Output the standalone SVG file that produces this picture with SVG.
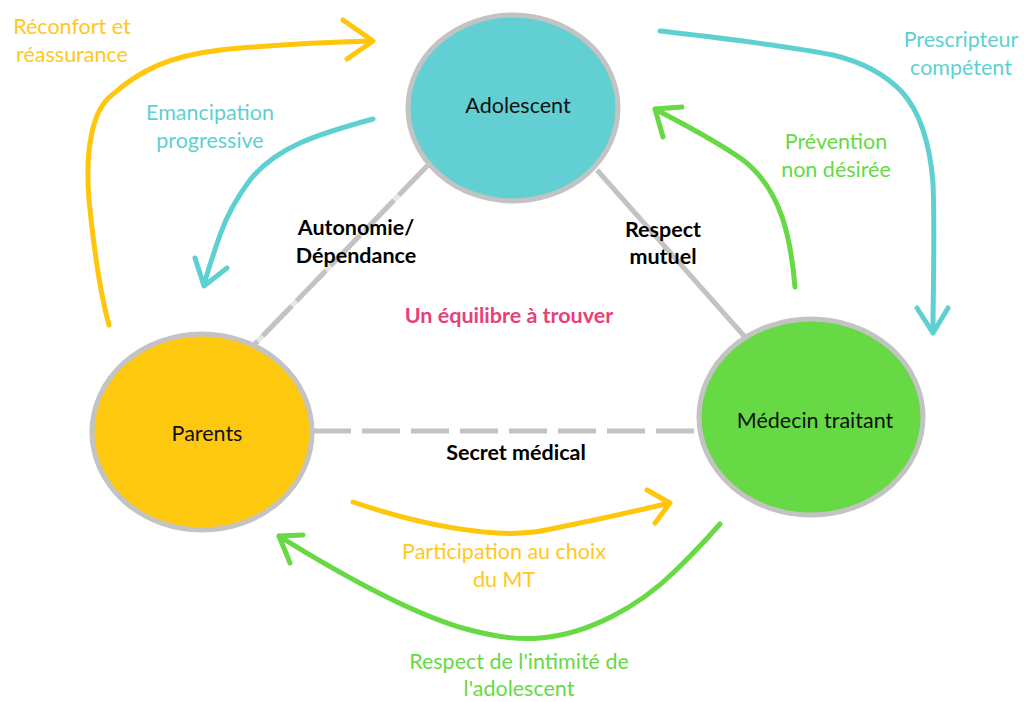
<svg xmlns="http://www.w3.org/2000/svg" width="1024" height="702" viewBox="0 0 1024 702">
<style>
.node{stroke:#c3c3c3;stroke-width:5}
.nl{font-family:Lato,"Liberation Sans",sans-serif;font-size:21.5px;fill:#111;text-anchor:middle}
.lb{font-family:Lato,"Liberation Sans",sans-serif;font-size:21.5px;text-anchor:middle}
.bd{font-family:Lato,"Liberation Sans",sans-serif;font-size:21.5px;font-weight:bold;text-anchor:middle;fill:#000}
.arr{fill:none;stroke-width:5;stroke-linecap:round;stroke-linejoin:round}
.y{stroke:#ffc60b}.t{stroke:#5fd0d2}.g{stroke:#66d944}
.ty{fill:#ffc820}.tt{fill:#5fd0d2}.tg{fill:#66d944}
.link{stroke:#c3c3c3;stroke-width:5;fill:none}
</style>
<rect width="1024" height="702" fill="#fff"/>
<g id="connectors">
<line x1="428" y1="165" x2="252" y2="347" stroke="#e6e6e6" stroke-width="5"/>
<line class="link" x1="428" y1="165" x2="252" y2="347" stroke-dasharray="42 7"/>
<line class="link" x1="597" y1="170" x2="745" y2="337"/>
<line class="link" x1="313" y1="431" x2="700" y2="431" stroke-dasharray="38 11"/>
<path class="arr y" d="M109,325 C102,300 95,260 89,200 C85,150 92,110 112,95 C140,70 170,56 220,50 C280,44 330,42 372,41 M343,20 L373,41 L347,59"/>
<path class="arr t" d="M373,119 C340,128 320,134 300,143 C280,152 262,165 250,180 C238,196 227,215 220,235 C213,255 208,270 204,285 M195,258 L204,286 L227,268"/>
<path class="arr t" d="M660,31 C720,38 790,46 833,55 C862,62 885,74 902,92 C920,112 930,145 933,183 C935,230 933,290 933,333 M917,308 L933,333 L948,308"/>
<path class="arr g" d="M795,287 C791,240 782,190 743,160 C715,140 685,125 655,109 M682,107 L655,109 L663,137"/>
<path class="arr y" d="M353,502 C400,518 450,530 497,533 C530,535 545,530 570,525 C610,517 640,510 670,503 M647,490 L670,503 L655,523"/>
<path class="arr g" d="M720,524 C705,541 690,557 673,573 C640,605 590,634 540,638 C520,640 500,638 470,630 C420,617 350,580 279,536 M303,535 L279,536 L290,563"/>
</g>
<g id="adolescent">
<ellipse class="node" cx="513" cy="108" rx="105" ry="93" fill="#62cfd2"/>
<text class="nl" x="518" y="113">Adolescent</text>
</g>
<g id="parents">
<ellipse class="node" cx="202" cy="432" rx="110" ry="98" fill="#fec80e"/>
<text class="nl" x="207" y="441">Parents</text>
</g>
<g id="medecin">
<ellipse class="node" cx="811" cy="417" rx="112" ry="98" fill="#66d944"/>
<text class="nl" x="815" y="428">Médecin traitant</text>
</g>
<g id="labels">
<text class="lb ty" x="72" y="34">Réconfort et</text>
<text class="lb ty" x="72" y="62">réassurance</text>
<text class="lb tt" x="210" y="120">Emancipation</text>
<text class="lb tt" x="210" y="148">progressive</text>
<text class="lb tt" x="961" y="47">Prescripteur</text>
<text class="lb tt" x="961" y="75">compétent</text>
<text class="lb tg" x="836" y="149">Prévention</text>
<text class="lb tg" x="836" y="177">non désirée</text>
<text class="lb ty" x="504" y="559">Participation au choix</text>
<text class="lb ty" x="504" y="587">du MT</text>
<text class="lb tg" x="519" y="669">Respect de l'intimité de</text>
<text class="lb tg" x="519" y="696">l'adolescent</text>
<text class="bd" x="356" y="235">Autonomie/</text>
<text class="bd" x="356" y="263">Dépendance</text>
<text class="bd" x="663" y="237">Respect</text>
<text class="bd" x="663" y="264">mutuel</text>
<text class="bd" x="509" y="323" style="fill:#e8407a">Un équilibre à trouver</text>
<text class="bd" x="516" y="460">Secret médical</text>
</g>
</svg>
